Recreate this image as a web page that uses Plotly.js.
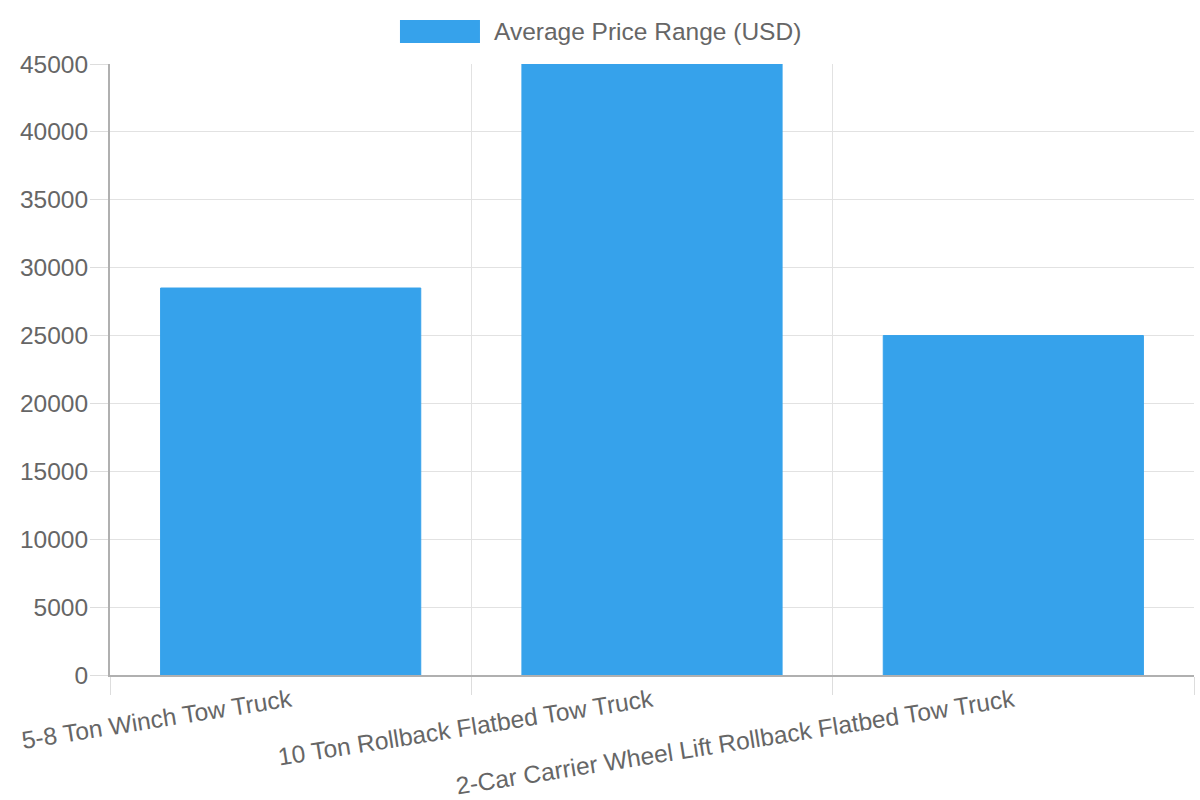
<!DOCTYPE html>
<html>
<head>
<meta charset="utf-8">
<script src="https://cdn.plot.ly/plotly-3.0.1.min.js"></script>
<style>
  html, body { margin: 0; padding: 0; background: #fff; }
  #chart { width: 1200px; height: 800px; }
</style>
</head>
<body>
<div id="chart"></div>
<script>
// data
var truckTypes = [
  "5-8 Ton Winch Tow Truck",
  "10 Ton Rollback Flatbed Tow Truck",
  "2-Car Carrier Wheel Lift Rollback Flatbed Tow Truck"
];
var avgPrice = [28500, 45000, 25000];
var seriesName = "Average Price Range (USD)";
var yTicks = [0, 5000, 10000, 15000, 20000, 25000, 30000, 35000, 40000, 45000];

var barBlue = "#36A2EB";
var textGrey = "#666666";
var fontFam = "'Liberation Sans', Arial, Helvetica, sans-serif";
var fs = 24.5;

var trace = {
  type: "bar",
  x: truckTypes,
  y: avgPrice,
  name: seriesName,
  marker: { color: barBlue, line: { color: barBlue, width: 1 } },
  hoverinfo: "x+y"
};

var layout = {
  width: 1200,
  height: 800,
  margin: { l: 110, r: 6, t: 64, b: 125 },
  paper_bgcolor: "#fff",
  plot_bgcolor: "#fff",
  font: { family: fontFam, size: fs, color: textGrey },
  showlegend: false,
  bargap: 0.28,
  xaxis: {
    type: "category",
    tickson: "boundaries",
    ticks: "outside",
    ticklen: 18,
    tickcolor: "#dddddd",
    tickangle: -9,
    tickfont: { family: fontFam, size: fs, color: textGrey },
    showgrid: true,
    gridcolor: "#e2e2e2",
    showline: true,
    linecolor: "#b0b0b0",
    linewidth: 2,
    zeroline: false,
    automargin: false
  },
  yaxis: {
    range: [0, 45000],
    tickvals: yTicks,
    ticktext: yTicks.map(String),
    ticks: "outside",
    ticklen: 18,
    tickcolor: "#dddddd",
    ticklabelstandoff: -3,
    tickfont: { family: fontFam, size: fs, color: textGrey },
    showgrid: true,
    gridcolor: "#e2e2e2",
    showline: true,
    linecolor: "#b0b0b0",
    linewidth: 2,
    zeroline: false,
    automargin: false
  },
  // legend drawn like the reference (wide swatch + label)
  shapes: [{
    type: "rect", xref: "paper", yref: "paper",
    x0: 0.2675, x1: 0.3413, y0: 1.0344, y1: 1.072,
    fillcolor: barBlue, line: { width: 0 }
  }],
  annotations: [{
    xref: "paper", yref: "paper",
    x: 0.3524, y: 1.0532,
    xanchor: "left", yanchor: "middle",
    text: seriesName,
    showarrow: false,
    font: { family: fontFam, size: fs, color: textGrey }
  }]
};

Plotly.newPlot("chart", [trace], layout, { displayModeBar: false, staticPlot: true });
</script>
</body>
</html>
